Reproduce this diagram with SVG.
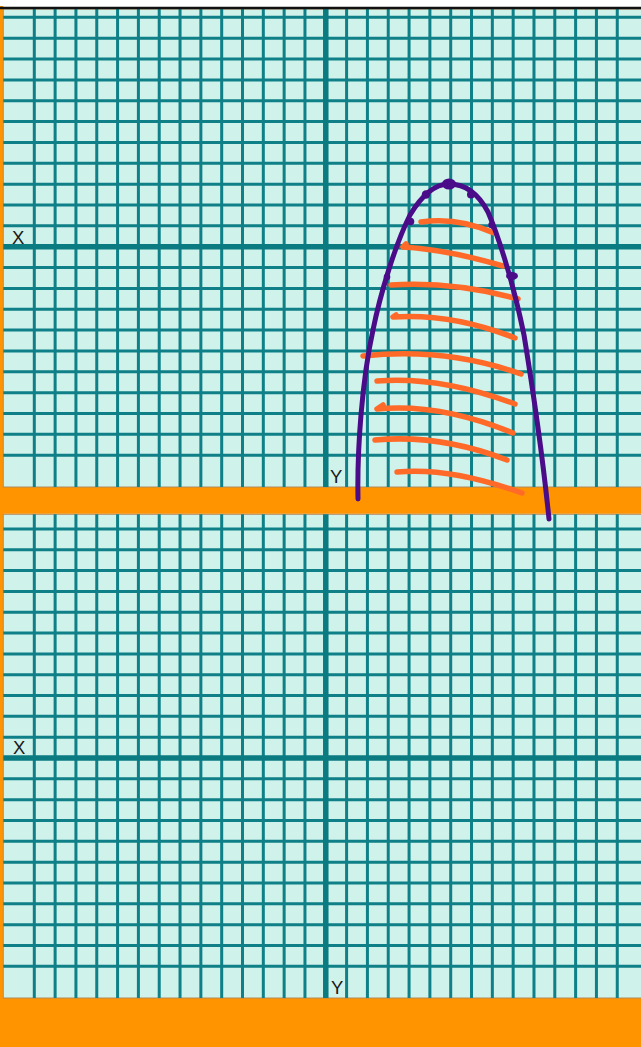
<svg xmlns="http://www.w3.org/2000/svg" width="641" height="1047" viewBox="0 0 641 1047">
<style>
.bg{fill:#cff2eb;stroke:#b08a5c;stroke-width:1}
.band{fill:#ff9400}
.grid{fill:none;stroke:#0f8087;stroke-width:3}
.axis{fill:none;stroke:#0b7b82;stroke-width:5.5}
.lbl{font-family:"Liberation Sans","DejaVu Sans",sans-serif;font-size:18.5px;fill:#1a1a1a}
.arch{fill:none;stroke:#4a0c88;stroke-width:5;stroke-linecap:round;stroke-linejoin:round}
.dot{fill:#4a0c88}
.hatch{fill:none;stroke:#ff6a28;stroke-width:5.5;stroke-linecap:round;stroke-linejoin:round}
</style>
<rect x="0" y="0" width="641" height="1047" fill="#ffffff"/>
<g id="frame">
<rect class="band" x="0" y="6" width="3.3" height="1041"/>
<rect class="band" x="0" y="487" width="641" height="26.8"/>
<rect class="band" x="0" y="998" width="641" height="49"/>
</g>
<g id="panel-top">
<rect class="bg" x="3.3" y="9" width="640" height="478"/>
<path class="grid" d="M34.3,9V487M55.12,9V487M75.94,9V487M96.76,9V487M117.58,9V487M138.4,9V487M159.22,9V487M180.04,9V487M200.86,9V487M221.68,9V487M242.5,9V487M263.32,9V487M284.14,9V487M304.96,9V487M346.6,9V487M367.42,9V487M388.24,9V487M409.06,9V487M429.88,9V487M450.7,9V487M471.52,9V487M492.34,9V487M513.16,9V487M533.98,9V487M554.8,9V487M575.62,9V487M596.44,9V487M617.26,9V487"/>
<path class="grid" d="M3.3,17.35H641M3.3,38.2H641M3.3,59.05H641M3.3,79.9H641M3.3,100.75H641M3.3,121.6H641M3.3,142.45H641M3.3,163.3H641M3.3,184.15H641M3.3,205H641M3.3,225.85H641M3.3,267.55H641M3.3,288.4H641M3.3,309.25H641M3.3,330.1H641M3.3,350.95H641M3.3,371.8H641M3.3,392.65H641M3.3,413.5H641M3.3,434.35H641M3.3,455.2H641"/>
<path class="axis" d="M325.78,9V487M3.3,246.7H641"/>
<text class="lbl" x="12" y="244">X</text>
<text class="lbl" x="330" y="483">Y</text>
</g>
<g id="panel-bottom">
<rect class="bg" x="3.3" y="514.3" width="640" height="483.7"/>
<path class="grid" d="M34.3,514.3V998M55.12,514.3V998M75.94,514.3V998M96.76,514.3V998M117.58,514.3V998M138.4,514.3V998M159.22,514.3V998M180.04,514.3V998M200.86,514.3V998M221.68,514.3V998M242.5,514.3V998M263.32,514.3V998M284.14,514.3V998M304.96,514.3V998M346.6,514.3V998M367.42,514.3V998M388.24,514.3V998M409.06,514.3V998M429.88,514.3V998M450.7,514.3V998M471.52,514.3V998M492.34,514.3V998M513.16,514.3V998M533.98,514.3V998M554.8,514.3V998M575.62,514.3V998M596.44,514.3V998M617.26,514.3V998"/>
<path class="grid" d="M3.3,528.9H641M3.3,549.73H641M3.3,570.56H641M3.3,591.39H641M3.3,612.22H641M3.3,633.05H641M3.3,653.88H641M3.3,674.71H641M3.3,695.54H641M3.3,716.37H641M3.3,737.2H641M3.3,778.86H641M3.3,799.69H641M3.3,820.52H641M3.3,841.35H641M3.3,862.18H641M3.3,883.01H641M3.3,903.84H641M3.3,924.67H641M3.3,945.5H641M3.3,966.33H641"/>
<path class="axis" d="M325.78,514.3V998M3.3,758.03H641"/>
<text class="lbl" x="13" y="754">X</text>
<text class="lbl" x="331" y="994">Y</text>
</g>
<line x1="0" y1="8" x2="641" y2="8" stroke="#111" stroke-width="2.6"/>
<g id="sketch">
<path class="hatch" d="M421,222 Q458,217 494,233"/>
<path class="hatch" d="M406,244 L403,247 Q447,249.5 503,266"/>
<path class="hatch" d="M391,285 Q453,281 518,299"/>
<path class="hatch" d="M396,315 L393,317 Q452,313 515,338"/>
<path class="hatch" d="M363,356 Q445,347 521,374"/>
<path class="hatch" d="M377,381 Q440,376 515,404"/>
<path class="hatch" d="M383,405 L377,409 Q440,403 513,433"/>
<path class="hatch" d="M375,440 Q440,434 507,460"/>
<path class="hatch" d="M397,472 Q450,467 522,493"/>
<path class="arch" d="M358,499 C357,450 362,380 373,330 C380,295 395,245 410,215 C422,195 435,184 449,184 C465,184 478,193 488,212 C500,240 515,290 524,335 C533,390 543,460 549,519"/>
<ellipse class="dot" cx="449" cy="184" rx="7" ry="5.5"/>
<circle class="dot" cx="426" cy="194.5" r="4.2"/>
<circle class="dot" cx="471" cy="194.5" r="4"/>
<circle class="dot" cx="410.5" cy="221.5" r="3.8"/>
<circle class="dot" cx="491.5" cy="225" r="3.2"/>
<circle class="dot" cx="387" cy="277" r="3.3"/>
<ellipse class="dot" cx="512" cy="276" rx="6" ry="4"/>
</g>
</svg>
